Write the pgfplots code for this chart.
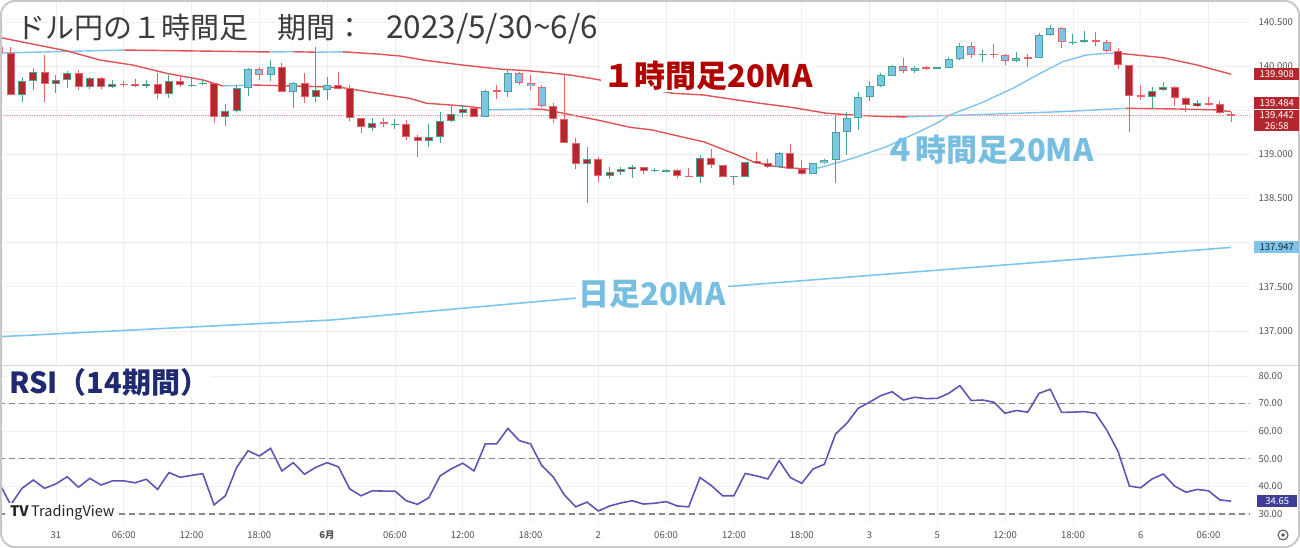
\documentclass[border=0pt]{standalone}
\usepackage{pgfplots}
\pgfplotsset{compat=1.18}
\usepackage{pgfplotstable}
\usepgfplotslibrary{fillbetween}
\usepackage{fontspec}
\setmainfont{Noto Sans CJK JP}

\definecolor{gridc}{RGB}{238,238,240}
\definecolor{tickc}{RGB}{80,80,85}
\definecolor{fillred}{RGB}{178,40,46}
\definecolor{fillblue}{RGB}{126,196,230}
\definecolor{edgeteal}{RGB}{70,165,145}
\definecolor{edgered}{RGB}{236,98,106}
\definecolor{mared}{RGB}{224,82,86}
\definecolor{mablue}{RGB}{128,196,236}
\definecolor{lblred}{RGB}{176,0,0}
\definecolor{lblblue}{RGB}{120,190,225}
\definecolor{lblnavy}{RGB}{32,42,112}
\definecolor{rsic}{RGB}{95,85,178}
\definecolor{dashc}{RGB}{135,135,140}
\definecolor{obfill}{RGB}{228,244,230}
\definecolor{titlec}{RGB}{60,60,60}
\definecolor{tagblue}{RGB}{125,195,235}
\definecolor{tagnavy}{RGB}{62,62,150}
\definecolor{framec}{RGB}{200,200,200}
\definecolor{dotred}{RGB}{240,150,150}

% hourly candles: index, open, high, low, close, fill (1 = blue, 0 = red)
\pgfplotstableread{
k o h l c f
0 140.216 140.230 140.150 140.152 0
1 140.152 140.216 139.673 139.673 0
2 139.673 139.880 139.597 139.831 0
3 139.835 139.975 139.729 139.937 0
4 139.937 140.126 139.590 139.794 0
5 139.794 139.899 139.692 139.839 0
6 139.843 139.945 139.749 139.925 0
7 139.925 139.956 139.729 139.763 0
8 139.763 139.880 139.741 139.862 0
9 139.862 139.880 139.741 139.763 0
10 139.767 139.843 139.755 139.797 0
11 139.797 139.835 139.767 139.794 0
12 139.801 139.854 139.767 139.778 0
13 139.778 139.843 139.749 139.801 0
14 139.801 139.918 139.627 139.681 0
15 139.681 139.899 139.635 139.828 0
16 139.828 139.880 139.767 139.783 0
17 139.778 139.869 139.767 139.786 0
18 139.802 139.843 139.786 139.805 0
19 139.805 139.810 139.352 139.420 0
20 139.420 139.567 139.325 139.492 0
21 139.495 139.786 139.484 139.755 0
22 139.755 139.982 139.665 139.964 1
23 139.964 139.993 139.843 139.899 1
24 139.899 140.069 139.831 139.986 1
25 139.986 140.032 139.703 139.710 0
26 139.703 139.823 139.529 139.805 1
27 139.805 139.918 139.579 139.647 0
28 139.647 140.216 139.590 139.726 0
29 139.729 139.873 139.616 139.786 1
30 139.786 139.937 139.737 139.737 0
31 139.749 139.786 139.378 139.416 0
32 139.416 139.416 139.246 139.307 0
33 139.302 139.409 139.268 139.359 0
34 139.364 139.409 139.307 139.356 0
35 139.336 139.398 139.284 139.344 0
36 139.344 139.390 139.163 139.200 0
37 139.200 139.220 138.974 139.148 0
38 139.148 139.341 139.087 139.200 0
39 139.200 139.484 139.133 139.382 0
40 139.382 139.560 139.364 139.458 0
41 139.466 139.560 139.420 139.511 0
42 139.522 139.540 139.420 139.420 0
43 139.420 139.729 139.420 139.721 1
44 139.721 139.786 139.624 139.718 0
45 139.710 139.956 139.653 139.918 1
46 139.918 139.937 139.786 139.805 1
47 139.805 139.899 139.729 139.775 1
48 139.767 139.786 139.540 139.552 1
49 139.548 139.579 139.352 139.401 0
50 139.401 139.899 139.126 139.126 0
51 139.126 139.182 138.831 138.888 0
52 138.888 139.080 138.453 138.945 0
53 138.945 138.967 138.691 138.755 0
54 138.755 138.854 138.718 138.797 0
55 138.801 138.861 138.767 138.838 0
56 138.835 138.880 138.729 138.861 0
57 138.857 138.861 138.775 138.812 0
58 138.818 138.843 138.797 138.821 0
59 138.812 138.835 138.801 138.823 0
60 138.823 138.835 138.729 138.759 0
61 138.759 138.843 138.750 138.752 0
62 138.748 138.993 138.673 138.956 0
63 138.956 139.061 138.843 138.880 0
64 138.880 138.880 138.748 138.748 0
65 138.748 138.759 138.654 138.752 0
66 138.748 138.917 138.744 138.917 0
67 138.925 139.031 138.891 138.899 0
68 138.899 138.948 138.849 138.861 0
69 138.861 139.031 138.849 139.012 1
70 139.012 139.114 138.835 138.835 0
71 138.835 138.937 138.767 138.778 0
72 138.778 138.906 138.775 138.899 1
73 138.899 138.948 138.895 138.933 1
74 138.933 139.446 138.673 139.257 1
75 139.257 139.484 138.993 139.416 1
76 139.416 139.703 139.276 139.653 1
77 139.653 139.831 139.605 139.775 1
78 139.775 139.918 139.767 139.899 1
79 139.891 140.012 139.888 140.001 1
80 140.001 140.088 139.918 139.945 1
81 139.945 140.001 139.918 139.982 1
82 139.986 140.005 139.956 139.982 1
83 139.982 139.993 139.975 139.986 1
84 139.982 140.107 139.982 140.080 1
85 140.080 140.258 140.069 140.228 1
86 140.228 140.276 140.095 140.126 1
87 140.129 140.182 140.043 140.137 1
88 140.140 140.247 140.095 140.129 1
89 140.126 140.134 140.012 140.058 1
90 140.058 140.156 140.050 140.095 1
91 140.100 140.134 139.993 140.092 1
92 140.088 140.372 140.088 140.352 1
93 140.352 140.466 140.344 140.428 1
94 140.428 140.446 140.208 140.270 1
95 140.265 140.360 140.239 140.276 1
96 140.276 140.398 140.265 140.292 1
97 140.292 140.390 140.231 140.276 1
98 140.270 140.296 140.163 140.174 1
99 140.174 140.202 139.967 140.012 0
100 140.012 140.012 139.257 139.665 0
101 139.673 139.786 139.616 139.653 0
102 139.653 139.767 139.514 139.718 0
103 139.729 139.823 139.718 139.767 0
104 139.767 139.778 139.552 139.635 0
105 139.635 139.653 139.484 139.560 0
106 139.552 139.616 139.540 139.579 0
107 139.579 139.653 139.552 139.560 0
108 139.567 139.605 139.458 139.466 0
109 139.461 139.484 139.370 139.442 0
}\candles

% RSI(14)
\pgfplotstableread{
k r
0 41.1
1 33.3
2 39.3
3 42.3
4 39.3
5 40.9
6 43.5
7 39.7
8 42.9
9 40.5
10 42.0
11 42.0
12 41.3
13 42.6
14 38.9
15 45.0
16 43.3
17 44.0
18 44.6
19 33.3
20 36.6
21 46.9
22 52.9
23 51.0
24 53.8
25 45.6
26 48.6
27 44.4
28 46.9
29 48.6
30 47.1
31 39.1
32 36.6
33 38.4
34 38.3
35 38.3
36 34.8
37 33.5
38 35.9
39 43.8
40 46.4
41 48.4
42 45.6
43 55.4
44 55.4
45 61.0
46 56.6
47 55.4
48 47.5
49 43.5
50 36.9
51 32.6
52 34.3
53 31.1
54 32.9
55 34.0
56 34.8
57 33.6
58 33.9
59 34.5
60 32.9
61 32.6
62 43.2
63 40.3
64 36.6
65 36.6
66 44.7
67 43.8
68 42.7
69 49.3
70 43.2
71 41.1
72 46.3
73 48.0
74 59.0
75 62.9
76 68.3
77 70.5
78 72.9
79 74.3
80 71.3
81 72.3
82 71.8
83 71.9
84 73.7
85 76.5
86 71.1
87 71.3
88 70.5
89 66.5
90 67.5
91 66.9
92 73.7
93 75.2
94 66.8
95 66.9
96 67.1
97 66.5
98 60.4
99 52.6
100 40.1
101 39.5
102 42.7
103 44.5
104 40.1
105 37.9
106 38.9
107 38.4
108 35.1
109 34.65
}\rsi

\pgfplotsset{
  tvaxis/.style={
    scale only axis, width=1250pt,
    xmin=0.0531, xmax=110.673,
    axis line style={draw=none}, tick style={draw=none},
    xtick={5,11,...,107},
    xmajorgrids, ymajorgrids,
    grid style={draw=gridc, line width=0.8pt},
    yticklabel pos=right,
    yticklabel style={font=\fontsize{9.5}{10}\selectfont, text=tickc, anchor=west, xshift=5pt},
    xticklabel style={font=\fontsize{9.5}{10}\selectfont, text=tickc},
  },
  wick/.style={draw=none, error bars/y dir=both, error bars/y explicit,
    error bars/error mark=none,
    error bars/error bar style={draw=#1, line width=1pt}},
  body/.style 2 args={draw=none, error bars/y dir=both, error bars/y explicit,
    error bars/error mark=none,
    error bars/error bar style={draw=#1, line width=#2}},
}

\begin{document}
\begin{tikzpicture}
% ---------- price panel ----------
\begin{axis}[tvaxis, at={(0pt,182pt)}, height=366pt,
  ymin=136.604, ymax=140.7486,
  ytick={137,137.5,138,138.5,139,139.5,140,140.5},
  yticklabels={137.000,137.500,,138.500,139.000,,140.000,140.500},
  xticklabels={}]

% daily 20MA
\addplot[mablue, line width=1.6pt] coordinates {
  (0.05,136.936) (29.4,137.125) (50.8,137.370) (64.2,137.502) (83.2,137.691) (109,137.947)};

% slow MA (rising = blue, falling = red)
\addplot[mablue, line width=1.4pt] coordinates {(0.1,140.148) (11,140.182)};
\addplot[mared, line width=1.4pt] coordinates {(11,140.182) (21,140.165) (24,140.160)};
\addplot[mablue, line width=1.4pt] coordinates {(24,140.160) (26,140.163)};
\addplot[mared, line width=1.4pt] coordinates {(26,140.163) (28,140.157)};
\addplot[mablue, line width=1.4pt] coordinates {(28,140.157) (30.4,140.162)};
\addplot[mared, line width=1.4pt] coordinates {
  (30.4,140.162) (33.4,140.137) (35.5,140.114) (37.5,140.069) (39.3,140.039)
  (41.0,140.012) (42.8,139.986) (44.6,139.964) (46.7,139.948) (48.7,139.925)
  (50.5,139.899) (52.3,139.862) (59.6,139.692) (62.3,139.673) (65.3,139.616)
  (67.3,139.579) (69.7,139.540) (71.5,139.503) (73.2,139.466) (75.5,139.446)
  (78.5,139.427) (80.3,139.425)};
\addplot[mablue, line width=1.4pt] coordinates {
  (80.3,139.425) (88.3,139.458) (94.1,139.484) (99.7,139.522)};
\addplot[mared, line width=1.4pt] coordinates {
  (99.7,139.522) (104,139.515) (107.5,139.505) (109,139.484)};

% fast MA
\addplot[mared, line width=1.4pt] coordinates {
  (0.1,140.322) (6.0,140.171) (8.9,140.069) (11.8,140.012) (14.8,139.918)
  (18.0,139.843) (19.8,139.775)};
\addplot[mablue, line width=1.4pt] coordinates {(19.8,139.775) (22.4,139.786)};
\addplot[mared, line width=1.4pt] coordinates {
  (22.4,139.786) (28.4,139.767) (30.4,139.755) (33.4,139.692) (36.3,139.635)
  (37.8,139.579) (39.9,139.560) (41.7,139.540) (42.8,139.522) (43.4,139.505)};
\addplot[mablue, line width=1.4pt] coordinates {(43.4,139.505) (47.0,139.515)};
\addplot[mared, line width=1.4pt] coordinates {
  (47.0,139.515) (48.1,139.510) (49.9,139.466) (52.9,139.390) (55.8,139.307)
  (57.8,139.276) (60.9,139.183) (62.3,139.144) (63.8,139.069) (65.3,138.993)
  (66.7,138.917) (68.2,138.872) (69.7,138.849) (71.5,138.835)};
\addplot[mablue, line width=1.4pt] coordinates {
  (71.5,138.835) (72.6,138.849) (75.5,138.956) (78.5,139.087) (81.4,139.257)
  (83.2,139.370) (84.1,139.446) (86.8,139.579) (89.7,139.749) (92.1,139.918)
  (94.1,140.050) (96.2,140.126) (98.0,140.145) (98.9,140.147)};
\addplot[mared, line width=1.4pt] coordinates {
  (98.9,140.147) (103.0,140.095) (106.0,140.012) (109.0,139.908)};

% last price line
\addplot[dotred, densely dotted, line width=0.8pt] coordinates {(0,139.442) (111,139.442)};

% wicks
\addplot[restrict expr to domain={\thisrow{c}-\thisrow{o}}{0:10}, wick=edgeteal]
  table[x=k, y expr=(\thisrow{h}+\thisrow{l})/2, y error expr=(\thisrow{h}-\thisrow{l})/2] \candles;
\addplot[restrict expr to domain={\thisrow{c}-\thisrow{o}}{-10:0}, wick=edgered]
  table[x=k, y expr=(\thisrow{h}+\thisrow{l})/2, y error expr=(\thisrow{h}-\thisrow{l})/2] \candles;
% body outlines
\addplot[restrict expr to domain={\thisrow{c}-\thisrow{o}}{0:10}, body={edgeteal}{8pt}]
  table[x=k, y expr=(\thisrow{o}+\thisrow{c})/2, y error expr={max(abs(\thisrow{c}-\thisrow{o})/2,0.0068)}] \candles;
\addplot[restrict expr to domain={\thisrow{c}-\thisrow{o}}{-10:0}, body={edgered}{8pt}]
  table[x=k, y expr=(\thisrow{o}+\thisrow{c})/2, y error expr={max(abs(\thisrow{c}-\thisrow{o})/2,0.0068)}] \candles;
% body fills
\addplot[restrict expr to domain={\thisrow{f}}{0.5:1.5}, body={fillblue}{6pt}]
  table[x=k, y expr=(\thisrow{o}+\thisrow{c})/2, y error expr={max(abs(\thisrow{c}-\thisrow{o})/2-0.0113,0)}] \candles;
\addplot[restrict expr to domain={\thisrow{f}}{-0.5:0.5}, body={fillred}{6pt}]
  table[x=k, y expr=(\thisrow{o}+\thisrow{c})/2, y error expr={max(abs(\thisrow{c}-\thisrow{o})/2-0.0113,0)}] \candles;
\end{axis}

% ---------- RSI panel ----------
\begin{axis}[tvaxis, at={(0pt,26pt)}, height=156pt,
  ymin=27.10, ymax=83.62,
  ytick={30,40,50,60,70,80},
  yticklabels={30.00,40.00,50.00,60.00,70.00,80.00},
  xticklabels={31,06:00,12:00,18:00,{\bfseries 6月},06:00,12:00,18:00,2,06:00,12:00,18:00,3,5,12:00,18:00,6,06:00},
  xticklabel style={anchor=center, yshift=-13pt}]
\addplot[draw=none, name path=rsiline] table[x=k, y=r] \rsi;
\addplot[draw=none, name path=ob] coordinates {(0,70) (111,70)};
\addplot[obfill] fill between[of=rsiline and ob, soft clip={domain y=70:90}];
\addplot[dashc, dash pattern=on 6pt off 4pt, line width=1.2pt] coordinates {(0,70) (111,70)};
\addplot[dashc, dash pattern=on 6pt off 4pt, line width=1.2pt] coordinates {(0,50) (111,50)};
\addplot[dashc, dash pattern=on 6pt off 4pt, line width=1.2pt] coordinates {(0,30) (111,30)};
\addplot[rsic, line width=1.6pt] table[x=k, y=r] \rsi;
\end{axis}

% panel separator and frame
\draw[gridc!80!gray, line width=1pt] (0pt,182pt) -- (1300pt,182pt);
\draw[framec, line width=2pt, rounded corners=14pt] (1pt,1pt) rectangle (1299pt,547pt);

% titles and labels
\node[anchor=west, inner sep=0pt, text=titlec, font=\fontsize{29}{32}\selectfont]
  at (16pt,519pt) {ドル円の１時間足　期間：\hspace{22pt}{\fontsize{31.5}{32}\selectfont 2023/5/30\textasciitilde 6/6}};
\node[anchor=west, inner sep=2pt, fill=white, text=lblred, font=\fontsize{31}{34}\selectfont\bfseries]
  at (601pt,472.5pt) {１時間足20MA};
\node[anchor=west, inner sep=0pt, text=lblblue, font=\fontsize{31}{34}\selectfont\bfseries]
  at (884pt,398pt) {４時間足20MA};
\node[anchor=west, inner sep=2pt, fill=white, text=lblblue, font=\fontsize{31}{34}\selectfont\bfseries]
  at (576pt,254pt) {日足20MA};
\node[anchor=west, inner sep=1pt, fill=white, text=lblnavy, font=\fontsize{29}{32}\selectfont\bfseries]
  at (8pt,166pt) {RSI（14期間）};
\node[anchor=west, inner sep=2pt, fill=white, text=black!85, font=\fontsize{14.5}{16}\selectfont]
  at (8pt,35pt) {{\bfseries TV}\,TradingView};

% price tags on the scale
\tikzset{tag/.style={anchor=west, inner sep=1pt, minimum width=45pt, minimum height=12.5pt,
  font=\fontsize{9.5}{10.5}\selectfont, text=white}}
\node[tag, fill=fillred] at (1254pt,474pt) {139.908};
\node[tag, fill=fillred] at (1254pt,445pt) {139.484};
\node[tag, fill=fillred, minimum height=21pt, align=center] at (1254pt,427.5pt) {139.442\\26:58};
\node[tag, fill=tagblue, text=black!85] at (1254pt,301pt) {137.947};
\node[tag, fill=tagnavy, minimum width=40pt] at (1257pt,47pt) {34.65};

% settings icon
\draw[tickc, line width=1pt] (1283pt,13pt) circle (5pt);
\fill[tickc] (1283pt,13pt) circle (1.8pt);

\pgfresetboundingbox
\path[use as bounding box] (0pt,0pt) rectangle (1300pt,548pt);
\end{tikzpicture}
\end{document}
